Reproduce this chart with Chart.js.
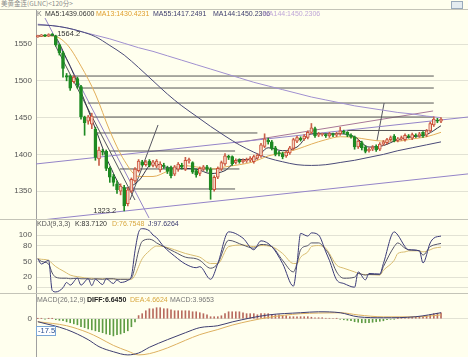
<!DOCTYPE html>
<html><head><meta charset="utf-8">
<script src="https://cdn.jsdelivr.net/npm/chart.js@4.4.1/dist/chart.umd.min.js"></script>
<style>
html,body{margin:0;padding:0}
body{width:468px;height:357px;background:#FFFFEE;position:relative;overflow:hidden;font-family:"Liberation Sans",Arial,sans-serif}
canvas{position:absolute;left:0}
.t{position:absolute;font-size:7px;line-height:8px;white-space:nowrap}
.h{position:absolute;left:0;width:468px;height:1px;background:#C4C4B8}
</style></head><body>
<div class="t" style="left:1px;top:0px;color:#8a8a8a;font-family:'Noto Sans CJK SC';font-size:6.5px;line-height:7px">美黄金连(GLNC)&lt;120分&gt;</div>
<div style="position:absolute;left:451px;top:1px;width:10px;height:6px;border:1px solid #9AB;background:#E4ECF0"></div>
<canvas id="cMain" width="468" height="210" style="top:9px"></canvas>
<canvas id="cKdj" width="468" height="74" style="top:219px"></canvas>
<canvas id="cMacd" width="468" height="64" style="top:293px"></canvas>
<div class="h" style="top:9px"></div>
<div class="h" style="top:219px"></div>
<div class="h" style="top:293px"></div>
<div class="t" style="left:37px;top:10px;color:#777">K</div>
<div class="t" style="left:45px;top:10px;color:#333">MA5:1439.0600</div>
<div class="t" style="left:96px;top:10px;color:#E0A030">MA13:1430.4231</div>
<div class="t" style="left:153px;top:10px;color:#3C3C6C">MA55:1417.2491</div>
<div class="t" style="left:213px;top:10px;color:#3C3C6C">MA144:1450.2306</div>
<div class="t" style="left:263px;top:10px;color:#C0A8D8">MA144:1450.2306</div>
<div class="t" style="left:37px;top:220px;color:#555">KDJ(9,3,3)</div>
<div class="t" style="left:75px;top:220px;color:#333">K:83.7120</div>
<div class="t" style="left:112px;top:220px;color:#D8A840">D:76.7548</div>
<div class="t" style="left:148px;top:220px;color:#3A3A70">J:97.6264</div>
<div class="t" style="left:37px;top:296px;color:#777">MACD(26,12,9)</div>
<div class="t" style="left:87px;top:296px;color:#222;font-weight:bold">DIFF:6.6450</div>
<div class="t" style="left:130px;top:296px;color:#D8A840">DEA:4.6624</div>
<div class="t" style="left:170px;top:296px;color:#777">MACD:3.9653</div>
<script>
// ---------- candle data (120-minute bars) ----------
const candleOpen = [1560,1561,1562,1561,1563,1561,1549,1538,1507,1506,
 1499,1503,1492,1451,1445,1441,1434,1394,1404,1404,
 1381,1370,1360,1350,1355,1333,1350,1364,1378,1390,
 1386,1391,1385,1384,1379,1385,1381,1382,1373,1380,
 1385,1380,1391,1389,1378,1374,1380,1383,1380,1352,
 1369,1380,1387,1397,1397,1389,1392,1390,1391,1392,
 1390,1395,1398,1411,1419,1417,1409,1402,1401,1398,
 1402,1408,1418,1422,1421,1423,1430,1435,1426,1427,
 1427,1425,1428,1426,1428,1431,1430,1426,1424,1410,
 1416,1410,1405,1407,1411,1407,1414,1416,1420,1425,
 1419,1421,1420,1425,1422,1426,1425,1430,1426,1432,
 1440,1446,1445];
const candleClose = [1561,1562,1561,1563,1562,1549,1538,1517,1505,1490,
 1505,1494,1451,1443,1451,1452,1396,1406,1403,1381,
 1369,1362,1352,1357,1330,1352,1366,1380,1391,1386,
 1390,1385,1390,1391,1387,1384,1377,1371,1383,1387,
 1383,1392,1393,1376,1372,1381,1383,1380,1352,1369,
 1381,1389,1398,1396,1387,1392,1390,1392,1393,1395,
 1397,1399,1413,1421,1417,1408,1400,1401,1397,1403,
 1409,1420,1423,1420,1425,1430,1436,1425,1428,1427,
 1425,1428,1426,1428,1432,1430,1426,1424,1410,1418,
 1409,1404,1407,1410,1406,1414,1417,1420,1423,1419,
 1421,1423,1426,1424,1427,1425,1428,1425,1432,1442,
 1448,1445,1448];
const candleHigh = [1562,1563,1563,1564,1564.2,1562,1550,1540,1510,1508,
 1507,1505,1494,1452,1453,1456,1437,1410,1407,1406,
 1383,1373,1364,1360,1358,1355,1368,1382,1393,1392,
 1392,1393,1392,1393,1390,1388,1384,1384,1385,1389,
 1388,1396,1395,1390,1380,1383,1385,1385,1382,1371,
 1383,1391,1401,1399,1398,1394,1394,1394,1395,1397,
 1399,1401,1415,1428,1422,1419,1411,1404,1403,1405,
 1411,1422,1425,1424,1427,1432,1442,1437,1430,1429,
 1428,1430,1429,1430,1437,1433,1431,1428,1425,1420,
 1418,1412,1409,1412,1413,1416,1419,1422,1425,1427,
 1423,1425,1428,1427,1429,1428,1430,1431,1434,1444,
 1451,1449,1450];
const candleLow = [1559,1560,1560,1560,1561,1547,1535,1505,1500,1487,
 1497,1490,1448,1426,1441,1435,1392,1385,1399,1378,
 1362,1357,1347,1345,1323.2,1330,1348,1362,1376,1384,
 1384,1383,1383,1382,1376,1381,1374,1368,1371,1377,
 1380,1378,1388,1374,1369,1371,1378,1377,1339,1350,
 1367,1378,1385,1393,1385,1387,1388,1388,1389,1390,
 1388,1393,1396,1409,1414,1406,1398,1398,1394,1396,
 1400,1406,1416,1418,1419,1421,1428,1423,1424,1425,
 1423,1423,1424,1424,1426,1428,1424,1422,1407,1408,
 1406,1402,1403,1405,1404,1405,1412,1414,1418,1417,
 1417,1419,1418,1422,1420,1423,1423,1423,1424,1430,
 1438,1443,1443];

// ---------- moving averages (read at every 4th bar) ----------
const maIdx = [0,4,8,12,16,20,24,28,32,36,40,44,48,52,56,60,64,68,72,76,80,84,88,92,96,100,104,108,112];
const ma5   = [1561,1562,1530,1485,1435,1385,1354,1364,1388,1382,1381,1380,1374,1378,1393,1393,1409,1405,1410,1428,1428,1428,1424,1410,1412,1420,1424,1427,1439];
const ma13  = [1560,1561,1550,1520,1482,1432,1392,1370,1370,1377,1385,1383,1380,1383,1386,1390,1398,1402,1407,1414,1420,1424,1423,1420,1418,1418,1421,1424,1430];
const ma55  = [1576,1575,1572,1567,1560,1548,1535,1518,1500,1482,1466,1452,1438,1425,1413,1403,1395,1390,1386,1385,1386,1389,1392,1396,1400,1405,1409,1413,1417];
const ma144 = [1577,1575,1572,1567,1562,1557,1551,1545,1540,1534,1528,1522,1516,1510,1504,1498,1493,1488,1483,1478,1474,1470,1466,1463,1460,1457,1455,1452,1450];

// ---------- drawn study lines (bar index, price) ----------
const hLevels = [1506.5,1490.2,1469.8,1450.8,1429.1,1432.5,1404.6,1380.2,1353.0];
const hStart  = [8.4,11.7,13.9,15.0,16.4,86,20.0,22.8,25.0];
const hEnd    = [110,110,110,110,61,108.5,54.8,56,54.8];
const trendViolet = [[2,1585.3,30.9,1313.6],[-0.5,1310,119.5,1373.5],[-0.5,1387,119.5,1450.8]];
const trendDark   = [[4.8,1548.6,27,1338],[25.6,1338,33.4,1440],[94.2,1418.2,96.2,1469.8]];
const trendChannel = [[54.8,1415.5,109.8,1459]];
const peakIndex = 4, peakValue = 1564.2, lowIndex = 24, lowValue = 1323.2;

// ---------- KDJ ----------
const kdjIdx = [0,1,3,4,5,7,8,9,11,12,14,15,16,18,19,21,22,23,25,26,27,28,29,31,32,33,35,38,41,44,45,48,50,53,57,60,62,65,68,71,72,73,75,76,78,80,81,83,85,88,89,91,92,95,96,99,100,102,103,106,107,109,110,112];
const kdjK = [55,50,45,28,20,18,18,17,18,17, 17,16,17,16,17,17,16,16,16,18, 40,70,88,92,90,85,78,68,58,55, 52,37,46,90,81,75,82,78,52,30, 46,72,80,85,85,72,62,30,18,20, 27,24,25,25,40,78,85,75,72,70, 62,78,81,84];
const kdjD = [55,54,52,46,40,32,28,24,21,20, 18,18,17,17,17,17,16,16,16,16, 24,40,55,70,76,79,78,72,65,60, 58,46,46,78,81,78,80,78,65,46, 46,58,68,78,80,75,65,43,37,30, 27,25,25,24,33,52,65,68,70,70, 68,72,75,77];
const kdjJ = [55,45,52,-5,-8,0,10,5,18,5, 17,4,16,6,17,8,15,10,14,22, 70,105,112,108,100,95,78,60,45,38, 40,16,46,106,94,72,89,78,46,3, 46,103,98,104,100,68,52,15,8,1, 30,15,27,26,46,106,100,78,72,70, 47,85,94,98];

// ---------- MACD ----------
const macdHist = [0.3,0.5,-0.5,0.3,0.3, -1.5,-2.4,-3.2,-4.8,-6.3, -8,-9.5,-12.6,-14,-16, -17.5,-19,-20.5,-22,-24,
 -25,-27,-25,-24,-22, -19,-12.6,-5,5,8, 12.6,15.8,15.8,17.4,17.4, 15.8,15.8,14,12.6,12.6,
 12.6,12.6,12.6,11,11, 9.5,8,6.3,3.2,3.2, 3.2,4.7,8,11,11, 11,11,9.5,8,8,
 8,6.3,8,8,8, 6.3,6.3,6.3,4.7,4.7, 3.2,3.2,3.2,3.2,3.2, 3.2,2.4,1.6,1.6,1.6,
 0.8,0.8,0.8,0.5,-0.8, -1.6,-2.4,-3.2,-4.7,-5.5, -6.3,-6.3,-6.3,-5.5,-4.7, -4,-3.2,-1.6,-0.8,-0.5,
 0.5,0.8,1.6,1.6,2.4, 3.2,3.2,4,4.7,6.3, 8,8.7,9.5];
const macdIdx = [0,8,14,17,21,25,28,31,36,41,45,50,54,64,73,78,84,89,96,105,112];
const macdDiff = [-4.7,-17,-33,-44,-52,-57,-54,-45,-33,-22,-14,-11,-5,6,9.5,11,9.5,3,1.6,3.2,9.5];
const macdDea  = [-4.7,-11,-22,-30,-42,-51,-57,-55,-46,-34,-25,-17,-10,2,8,9,9.5,6,3,3,6];
const cursorValue = -17.5;

const mainTicks = [1350,1400,1450,1500,1550];
const kdjTicks = [0,20,50,80,100];
const macdTicks = [0];

// ---------- helpers ----------
const pts = (xs, ys) => xs.map((x, i) => ({x, y: ys[i]}));
function baseOptions(yMin, yMax, yTicks) {
  return {
    responsive:false, animation:false, devicePixelRatio:1,
    layout:{padding:0},
    plugins:{legend:{display:false}, tooltip:{enabled:false}},
    scales:{
      x:{type:'linear', min:-0.5, max:119.5, display:false, offset:false},
      y:{min:yMin, max:yMax, position:'left',
        afterFit(s){ s.width = 36; s.paddingTop = 0; s.paddingBottom = 0; },
        afterBuildTicks(s){ s.ticks = yTicks.map(v => ({value:v})); },
        ticks:{font:{size:8, family:'Liberation Sans'}, color:'#555', padding:4, callback:v => String(v)},
        grid:{color:'#E2E2D4', drawTicks:false},
        border:{display:true, color:'#A0A0A0'}
      }
    }
  };
}
const lineDs = (data, color, w, order, tension) => ({type:'line', data, borderColor:color, borderWidth:w,
  pointRadius:0, tension:tension||0, cubicInterpolationMode: tension ? 'monotone' : 'default', order, fill:false});

const idx = candleOpen.map((_, i) => i);
const isUp = i => candleClose[i] >= candleOpen[i];

// ---------- main chart ----------
const mainDatasets = [
  {type:'bar', data: idx.map(i => ({x:i, y:[candleOpen[i], candleClose[i]]})), barThickness:3, grouped:false,
   borderWidth:1, borderSkipped:false, minBarLength:1, order:0,
   backgroundColor: c => isUp(c.dataIndex) ? '#F4D6C4' : '#1E8A22',
   borderColor: c => isUp(c.dataIndex) ? '#CC5038' : '#1E8A22'},
  {type:'bar', data: idx.map(i => ({x:i, y:[candleLow[i], candleHigh[i]]})), barThickness:1, grouped:false,
   borderWidth:0, order:1,
   backgroundColor: c => isUp(c.dataIndex) ? '#C8604A' : '#1E8A22'},
  lineDs(pts(maIdx, ma5), '#33334A', 1, 2, 0.4),
  lineDs(pts(maIdx, ma13), '#E2AE5A', 1, 2, 0.4),
  lineDs(pts(maIdx, ma55), '#4A4A78', 1, 2, 0.4),
  lineDs(pts(maIdx, ma144), '#A090D0', 1, 2, 0.4)
];
hLevels.forEach((p, k) => mainDatasets.push(lineDs([{x:hStart[k], y:p}, {x:hEnd[k], y:p}], '#555555', 1, 3)));
trendViolet.forEach(t => mainDatasets.push(lineDs([{x:t[0], y:t[1]}, {x:t[2], y:t[3]}], '#9484C8', 1, 3)));
trendDark.forEach(t => mainDatasets.push(lineDs([{x:t[0], y:t[1]}, {x:t[2], y:t[3]}], '#555560', 1, 3)));
trendChannel.forEach(t => mainDatasets.push(lineDs([{x:t[0], y:t[1]}, {x:t[2], y:t[3]}], '#A87898', 1, 3)));

const mainLabels = {id:'mainLabels', afterDatasetsDraw(chart){
  const {ctx, scales:{x, y}} = chart;
  ctx.save(); ctx.font = '7.5px "Liberation Sans"'; ctx.fillStyle = '#333'; ctx.textBaseline = 'middle';
  ctx.textAlign = 'left'; ctx.fillText(String(peakValue), x.getPixelForValue(peakIndex) + 5, y.getPixelForValue(peakValue));
  ctx.textAlign = 'right'; ctx.fillText(String(lowValue), x.getPixelForValue(lowIndex) - 8, y.getPixelForValue(lowValue));
  ctx.restore();
}};
new Chart(document.getElementById('cMain'), {type:'bar', data:{datasets:mainDatasets},
  options: baseOptions(1312.2, 1597.6, mainTicks), plugins:[mainLabels]});

// ---------- KDJ chart ----------
new Chart(document.getElementById('cKdj'), {type:'line', data:{datasets:[
  lineDs(pts(kdjIdx, kdjJ), '#3A3A78', 1, 0, 0.2),
  lineDs(pts(kdjIdx, kdjK), '#55556A', 1, 1, 0.2),
  lineDs(pts(kdjIdx, kdjD), '#D8BC70', 1, 2, 0.3)
]}, options: baseOptions(-10, 130.4, kdjTicks)});

// ---------- MACD chart ----------
const macdBox = {id:'macdBox', afterDatasetsDraw(chart){
  const {ctx, scales:{y}} = chart;
  const py = Math.round(y.getPixelForValue(cursorValue));
  ctx.save();
  ctx.fillStyle = '#FFFFFF'; ctx.fillRect(36, py - 4, 19, 9);
  ctx.strokeStyle = '#7AA6D6'; ctx.lineWidth = 1; ctx.strokeRect(36.5, py - 3.5, 19, 9);
  ctx.font = '7.5px "Liberation Sans"'; ctx.fillStyle = '#2A4E90'; ctx.textBaseline = 'middle'; ctx.textAlign = 'left';
  ctx.fillText(String(cursorValue), 38, py + 1);
  ctx.restore();
}};
new Chart(document.getElementById('cMacd'), {type:'bar', data:{datasets:[
  {type:'bar', data: idx.map(i => ({x:i, y:macdHist[i]})), barThickness:1, grouped:false, borderWidth:0, order:2,
   backgroundColor: c => macdHist[c.dataIndex] >= 0 ? '#B86A5E' : '#5E9C44'},
  lineDs(pts(macdIdx, macdDiff), '#3E3E70', 1, 0, 0.4),
  lineDs(pts(macdIdx, macdDea), '#DDB060', 1, 1, 0.4)
]}, options: baseOptions(-60.3, 40.6, macdTicks), plugins:[macdBox]});
</script>
</body></html>
